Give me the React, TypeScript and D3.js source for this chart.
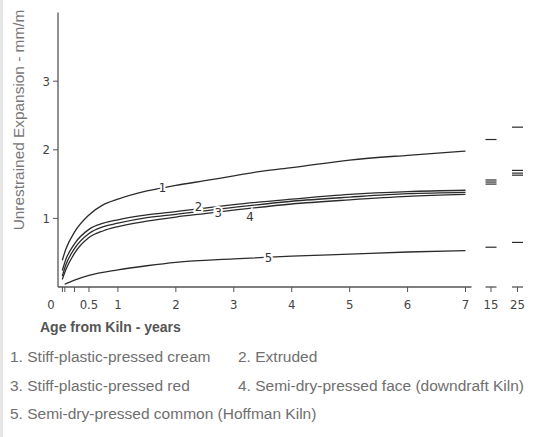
import { useEffect, useRef } from "react";
import * as d3 from "d3";

// years from kiln (main part of the axis, 0..7)
const years1 = [0.04, 0.1, 0.25, 0.5, 0.75, 1, 1.5, 2, 2.5, 3, 3.5, 4, 5, 6, 7];
const curve1 = [0.39, 0.55, 0.8, 1.05, 1.2, 1.28, 1.4, 1.48, 1.55, 1.62, 1.69, 1.74, 1.85, 1.92, 1.98];

const years2 = [0.04, 0.1, 0.25, 0.5, 0.75, 1, 1.5, 2, 2.5, 3, 4, 5, 6, 7];
const curve2 = [0.24, 0.4, 0.63, 0.84, 0.93, 0.98, 1.05, 1.1, 1.15, 1.2, 1.28, 1.35, 1.39, 1.41];
const curve3 = [0.16, 0.32, 0.56, 0.78, 0.88, 0.93, 1.01, 1.06, 1.11, 1.16, 1.25, 1.31, 1.36, 1.38];
const curve4 = [0.11, 0.25, 0.49, 0.72, 0.82, 0.88, 0.96, 1.02, 1.07, 1.12, 1.21, 1.27, 1.32, 1.35];

const years5 = [0.08, 0.25, 0.5, 1, 1.5, 2, 3, 4, 5, 6, 7];
const curve5 = [0.04, 0.1, 0.17, 0.25, 0.31, 0.36, 0.41, 0.45, 0.48, 0.51, 0.53];

// values at the broken part of the axis
const laterYears = ["15", "25"];
const later1 = [2.15, 2.33];
const later2 = [1.56, 1.7];
const later3 = [1.53, 1.66];
const later4 = [1.5, 1.63];
const later5 = [0.58, 0.65];

// inline curve labels: [name, year, value]
const curveLabels: [string, number, number][] = [
  ["1", 1.77, 1.45],
  ["2", 2.39, 1.17],
  ["3", 2.73, 1.09],
  ["4", 3.28, 1.03],
  ["5", 3.6, 0.43],
];

const xTicks = [0.5, 1, 2, 3, 4, 5, 6, 7];
const minorTicks = [1 / 24, 1 / 12, 0.25];
const yTicks = [1, 2, 3];

const legendRows = [
  ["1. Stiff-plastic-pressed cream", "2. Extruded"],
  ["3. Stiff-plastic-pressed red", "4. Semi-dry-pressed face (downdraft Kiln)"],
  ["5. Semi-dry-pressed common (Hoffman Kiln)"],
];

const W = 544;
const H = 437;
const tickFont = "'Liberation Sans Narrow', 'DejaVu Sans Condensed', sans-serif";
const textFont = "'Liberation Sans', Arial, sans-serif";

export default function App() {
  const ref = useRef<SVGSVGElement>(null);

  useEffect(() => {
    const svg = d3.select(ref.current);
    svg.selectAll("*").remove();

    svg.append("rect").attr("width", W).attr("height", H).attr("fill", "#fff");
    svg.append("line")
      .attr("x1", 1.5).attr("x2", 1.5).attr("y1", 0).attr("y2", H)
      .attr("stroke", "#e6e6e6").attr("stroke-width", 3);

    const x = d3.scaleLinear().domain([0, 7]).range([60, 465.5]);
    const xLate = d3.scalePoint().domain(laterYears).range([491, 517.5]);
    const y = d3.scaleLinear().domain([0, 4]).range([287, 12.6]);

    const line = d3.line<[number, number]>()
      .x(d => x(d[0]))
      .y(d => y(d[1]))
      .curve(d3.curveMonotoneX);

    const series = [
      { t: years1, v: curve1, late: later1 },
      { t: years2, v: curve2, late: later2 },
      { t: years2, v: curve3, late: later3 },
      { t: years2, v: curve4, late: later4 },
      { t: years5, v: curve5, late: later5 },
    ];

    const g = svg.append("g");

    series.forEach(s => {
      g.append("path")
        .attr("d", line(s.t.map((t, i) => [t, s.v[i]] as [number, number])))
        .attr("fill", "none")
        .attr("stroke", "#2b2b2b")
        .attr("stroke-width", 1.3);

      s.late.forEach((v, i) => {
        const cx = xLate(laterYears[i])!;
        g.append("line")
          .attr("x1", cx - 5.5).attr("x2", cx + 5.5)
          .attr("y1", y(v)).attr("y2", y(v))
          .attr("stroke", "#2b2b2b")
          .attr("stroke-width", 1.2);
      });
    });

    // curve labels with white halo breaking the lines
    g.selectAll(".clabel")
      .data(curveLabels)
      .enter().append("text")
      .attr("x", d => x(d[1]))
      .attr("y", d => y(d[2]))
      .attr("dy", "0.35em")
      .attr("text-anchor", "middle")
      .attr("font-family", tickFont)
      .attr("font-size", 13)
      .attr("fill", "#333")
      .attr("stroke", "#fff")
      .attr("stroke-width", 4)
      .attr("paint-order", "stroke")
      .text(d => d[0]);

    // axes
    const axisColor = "#555";
    g.append("line")
      .attr("x1", 58).attr("x2", 58).attr("y1", y(4)).attr("y2", y(0))
      .attr("stroke", axisColor).attr("stroke-width", 1.3);
    g.append("line")
      .attr("x1", 58).attr("x2", x(7) + 6).attr("y1", y(0)).attr("y2", y(0))
      .attr("stroke", axisColor).attr("stroke-width", 1.3);

    yTicks.forEach(v => {
      g.append("line")
        .attr("x1", 53).attr("x2", 58).attr("y1", y(v)).attr("y2", y(v))
        .attr("stroke", axisColor).attr("stroke-width", 1);
      g.append("text")
        .attr("x", 50).attr("y", y(v)).attr("dy", "0.35em")
        .attr("text-anchor", "end")
        .attr("font-family", tickFont).attr("font-size", 13)
        .attr("fill", "#444")
        .text(v);
    });

    [...minorTicks, ...xTicks].forEach(t => {
      g.append("line")
        .attr("x1", x(t)).attr("x2", x(t)).attr("y1", y(0)).attr("y2", y(0) + 5)
        .attr("stroke", axisColor).attr("stroke-width", 1);
    });
    xTicks.forEach(t => {
      g.append("text")
        .attr("x", x(t)).attr("y", y(0) + 22)
        .attr("text-anchor", "middle")
        .attr("font-family", tickFont).attr("font-size", 13)
        .attr("fill", "#444")
        .text(t);
    });
    g.append("text")
      .attr("x", 51).attr("y", y(0) + 22)
      .attr("text-anchor", "middle")
      .attr("font-family", tickFont).attr("font-size", 13)
      .attr("fill", "#444")
      .text("0");

    laterYears.forEach(k => {
      const cx = xLate(k)!;
      g.append("line")
        .attr("x1", cx - 5.5).attr("x2", cx + 5.5).attr("y1", y(0)).attr("y2", y(0))
        .attr("stroke", axisColor).attr("stroke-width", 1.3);
      g.append("line")
        .attr("x1", cx).attr("x2", cx).attr("y1", y(0)).attr("y2", y(0) + 5)
        .attr("stroke", axisColor).attr("stroke-width", 1);
      g.append("text")
        .attr("x", cx).attr("y", y(0) + 22)
        .attr("text-anchor", "middle")
        .attr("font-family", tickFont).attr("font-size", 13)
        .attr("fill", "#444")
        .text(k);
    });

    // titles
    svg.append("text")
      .attr("transform", "translate(24,120) rotate(-90)")
      .attr("text-anchor", "middle")
      .attr("font-family", textFont).attr("font-size", 15.4)
      .attr("fill", "#777")
      .text("Unrestrained Expansion - mm/m");

    svg.append("text")
      .attr("x", 40).attr("y", 332)
      .attr("font-family", textFont).attr("font-size", 14)
      .attr("font-weight", "bold")
      .attr("fill", "#555")
      .text("Age from Kiln - years");

    legendRows.forEach((row, r) => {
      row.forEach((label, c) => {
        svg.append("text")
          .attr("x", c === 0 ? 10 : 238)
          .attr("y", 362 + r * 28.5)
          .attr("font-family", textFont).attr("font-size", 15.5)
          .attr("fill", "#6f6f6f")
          .text(label);
      });
    });
  }, []);

  return (
    <svg
      ref={ref}
      width={W}
      height={H}
      style={{ position: "absolute", left: 0, top: 0 }}
    />
  );
}
